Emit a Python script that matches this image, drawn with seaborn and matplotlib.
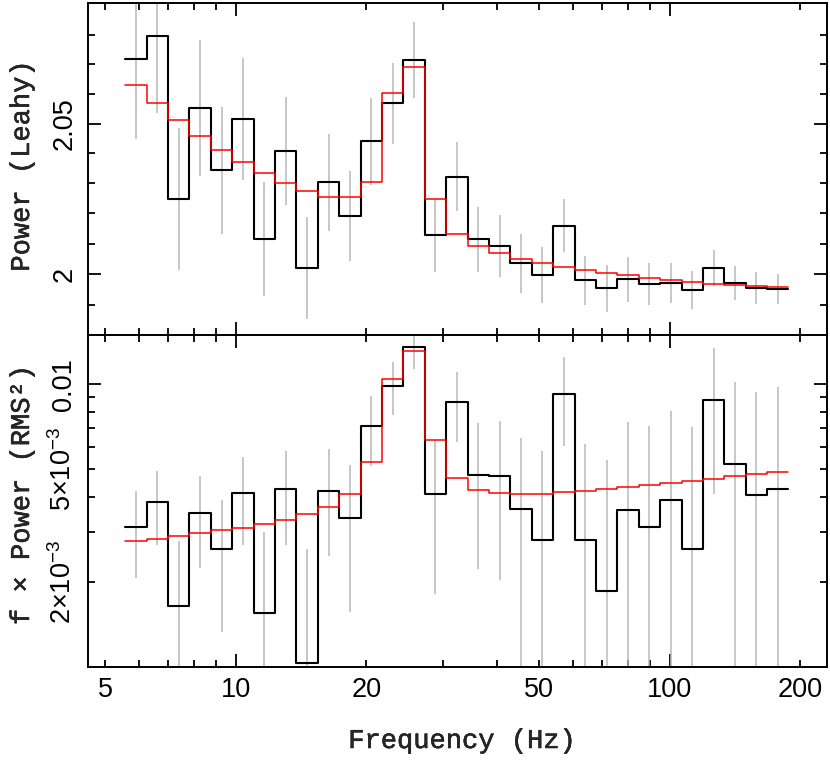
import numpy as np
import seaborn as sns
import matplotlib.pyplot as plt
import matplotlib.patheffects as pe
from matplotlib.ticker import FixedLocator, FuncFormatter, NullFormatter

# log-spaced frequency bins (Hz), 31 bins
freq_edges = [5.567, 6.236, 6.986, 7.826, 8.766, 9.820, 11.00, 12.32, 13.80,
              15.46, 17.32, 19.40, 21.74, 24.35, 27.27, 30.55, 34.22, 38.34,
              42.95, 48.11, 53.89, 60.37, 67.62, 75.75, 84.86, 95.05, 106.5,
              119.3, 133.6, 149.7, 167.7, 187.8]

# top panel: Leahy power
leahy_data = [2.0719, 2.0796, 2.0249, 2.0553, 2.0343, 2.0517, 2.0117, 2.0409,
              2.0021, 2.0303, 2.0192, 2.0440, 2.0568, 2.0716, 2.0128, 2.0322,
              2.0114, 2.0092, 2.0035, 1.9998, 2.0160, 1.9980, 1.9953, 1.9983,
              1.9967, 1.9972, 1.9948, 2.0021, 1.9970, 1.9954, 1.9951]
leahy_err = [0.0270, 0.0260, 0.0237, 0.0229, 0.0212, 0.0205, 0.0189, 0.0180,
             0.0168, 0.0161, 0.0150, 0.0145, 0.0138, 0.0130, 0.0120, 0.0115,
             0.0108, 0.0102, 0.0096, 0.0091, 0.0087, 0.0081, 0.0077, 0.0074,
             0.0069, 0.0066, 0.0061, 0.0059, 0.0055, 0.0052, 0.0050]
leahy_model = [2.0631, 2.0568, 2.0512, 2.0460, 2.0412, 2.0370, 2.0333, 2.0302,
               2.0275, 2.0256, 2.0255, 2.0306, 2.0605, 2.0692, 2.0248, 2.0133,
               2.0092, 2.0069, 2.0050, 2.0036, 2.0024, 2.0013, 2.0004, 1.9996,
               1.9988, 1.9981, 1.9974, 1.9969, 1.9965, 1.9960, 1.9957]

# bottom panel: f x power, in units of 1e-3 RMS^2
rms_data = [3.12, 3.82, 1.64, 3.49, 2.62, 4.11, 1.555, 4.25, 1.03, 4.18, 3.36,
            7.09, 9.87, 13.55, 4.08, 8.66, 4.76, 4.72, 3.63, 2.82, 9.27, 2.81,
            1.86, 3.60, 3.12, 3.88, 2.62, 8.78, 5.23, 4.06, 4.25]
rms_err = [1.06, 1.12, 1.14, 1.25, 1.29, 1.40, 1.44, 1.54, 1.59, 1.72, 1.80,
           1.96, 2.08, 2.22, 2.27, 2.41, 2.53, 2.69, 2.82, 3.00, 3.21, 3.33,
           3.53, 3.74, 3.97, 4.19, 4.43, 4.70, 4.96, 5.29, 5.56]
rms_model = [2.785, 2.84, 2.90, 2.97, 3.04, 3.11, 3.21, 3.31, 3.47, 3.68, 4.10,
             5.29, 10.41, 13.15, 6.33, 4.66, 4.22, 4.11, 4.08, 4.09, 4.15, 4.19,
             4.25, 4.32, 4.39, 4.46, 4.55, 4.63, 4.73, 4.83, 4.91]

sns.set_style('white')
plt.rcParams['font.family'] = ['Liberation Sans', 'DejaVu Sans']
plt.rcParams['mathtext.fontset'] = 'custom'
plt.rcParams['mathtext.rm'] = 'Liberation Sans'
plt.rcParams['axes.unicode_minus'] = True

TICK_FS = 19.5
LABEL_FONT = dict(family=['Liberation Mono', 'DejaVu Sans Mono'], fontsize=19.5,
                  path_effects=[pe.withStroke(linewidth=0.35, foreground='black')])

edges = np.array(freq_edges)
centers = np.sqrt(edges[:-1] * edges[1:])


def draw_panel(ax, data, err, model, scale=1.0):
    data = np.array(data) * scale
    err = np.array(err) * scale
    model = np.array(model) * scale
    lo = np.clip(data - err, 1e-6, None)
    hi = data + err
    ax.vlines(centers, lo, hi, color='#b8b8b8', lw=1.1, zorder=1)
    sns.lineplot(x=edges, y=np.append(data, data[-1]), drawstyle='steps-post',
                 color='black', lw=1.5, ax=ax, zorder=2)
    sns.lineplot(x=edges, y=np.append(model, model[-1]), drawstyle='steps-post',
                 color='#ff0000', lw=1.1, ax=ax, zorder=3)


def style_axes(ax):
    ax.set_xscale('log')
    ax.set_xlim(4.575, 230)
    for s in ax.spines.values():
        s.set_visible(True)
        s.set_color('black')
        s.set_linewidth(1.4)
    ax.tick_params(which='both', direction='in', top=True, right=True,
                   bottom=True, left=True, color='black', width=1.3,
                   labelsize=TICK_FS, labelcolor='black')
    ax.tick_params(which='major', length=9.5)
    ax.tick_params(which='minor', length=5)
    ax.tick_params(axis='x', which='both', pad=7)
    ax.tick_params(axis='y', which='both', pad=8, labelrotation=90)
    ax.xaxis.set_major_locator(FixedLocator([10, 100]))
    ax.xaxis.set_minor_locator(FixedLocator([5, 6, 7, 8, 9, 20, 30, 40, 50, 60,
                                             70, 80, 90, 200]))
    ax.set_xlabel('')
    ax.set_ylabel('')
    ax.grid(False)


fig = plt.figure(figsize=(8.3, 7.63), dpi=100)
ax1 = fig.add_axes([0.1064, 0.5613, 0.8896, 0.4352])
ax2 = fig.add_axes([0.1064, 0.1258, 0.8896, 0.4355])

draw_panel(ax1, leahy_data, leahy_err, leahy_model)
draw_panel(ax2, rms_data, rms_err, rms_model, scale=1e-3)

style_axes(ax1)
style_axes(ax2)

# top panel y axis
ax1.set_yscale('log')
ax1.set_ylim(1.9802, 2.0911)
ax1.yaxis.set_major_locator(FixedLocator([2.0, 2.05]))
ax1.yaxis.set_major_formatter(FuncFormatter(lambda v, p: {2.0: '2', 2.05: '2.05'}.get(round(v, 2), '')))
ax1.yaxis.set_minor_locator(FixedLocator([1.99, 2.01, 2.02, 2.03, 2.04, 2.06,
                                          2.07, 2.08]))
ax1.yaxis.set_minor_formatter(NullFormatter())
ax1.xaxis.set_major_formatter(NullFormatter())
ax1.xaxis.set_minor_formatter(NullFormatter())

# bottom panel y axis
ax2.set_yscale('log')
ax2.set_ylim(1.0e-3, 0.01496)
ax2.yaxis.set_major_locator(FixedLocator([0.01]))
ax2.yaxis.set_major_formatter(FuncFormatter(lambda v, p: '0.01'))
ax2.yaxis.set_minor_locator(FixedLocator([k * 1e-3 for k in range(2, 10)]))
ytl = {2: r'$2{\times}10^{-3}$', 5: r'$5{\times}10^{-3}$'}
ax2.yaxis.set_minor_formatter(FuncFormatter(lambda v, p: ytl.get(int(round(v * 1e3)), '')))
xtl = {5: '5', 20: '20', 50: '50', 200: '200'}
ax2.xaxis.set_major_formatter(FuncFormatter(lambda v, p: '%d' % round(v)))
ax2.xaxis.set_minor_formatter(FuncFormatter(lambda v, p: xtl.get(int(round(v)), '')))

for ax in (ax1, ax2):
    for lbl in ax.get_yticklabels(which='both'):
        lbl.set_va('center')

fig.text(22 / 830, 1 - 166 / 763, 'Power (Leahy)', rotation=90,
         ha='center', va='center', **LABEL_FONT)
fig.text(22 / 830, 1 - 495 / 763, 'f \u00d7 Power (RMS\u00b2)', rotation=90,
         ha='center', va='center', **LABEL_FONT)
fig.text(462 / 830, 1 - 741 / 763, 'Frequency (Hz)', ha='center', va='center',
         **LABEL_FONT)

fig.savefig('out.png', dpi=100)
